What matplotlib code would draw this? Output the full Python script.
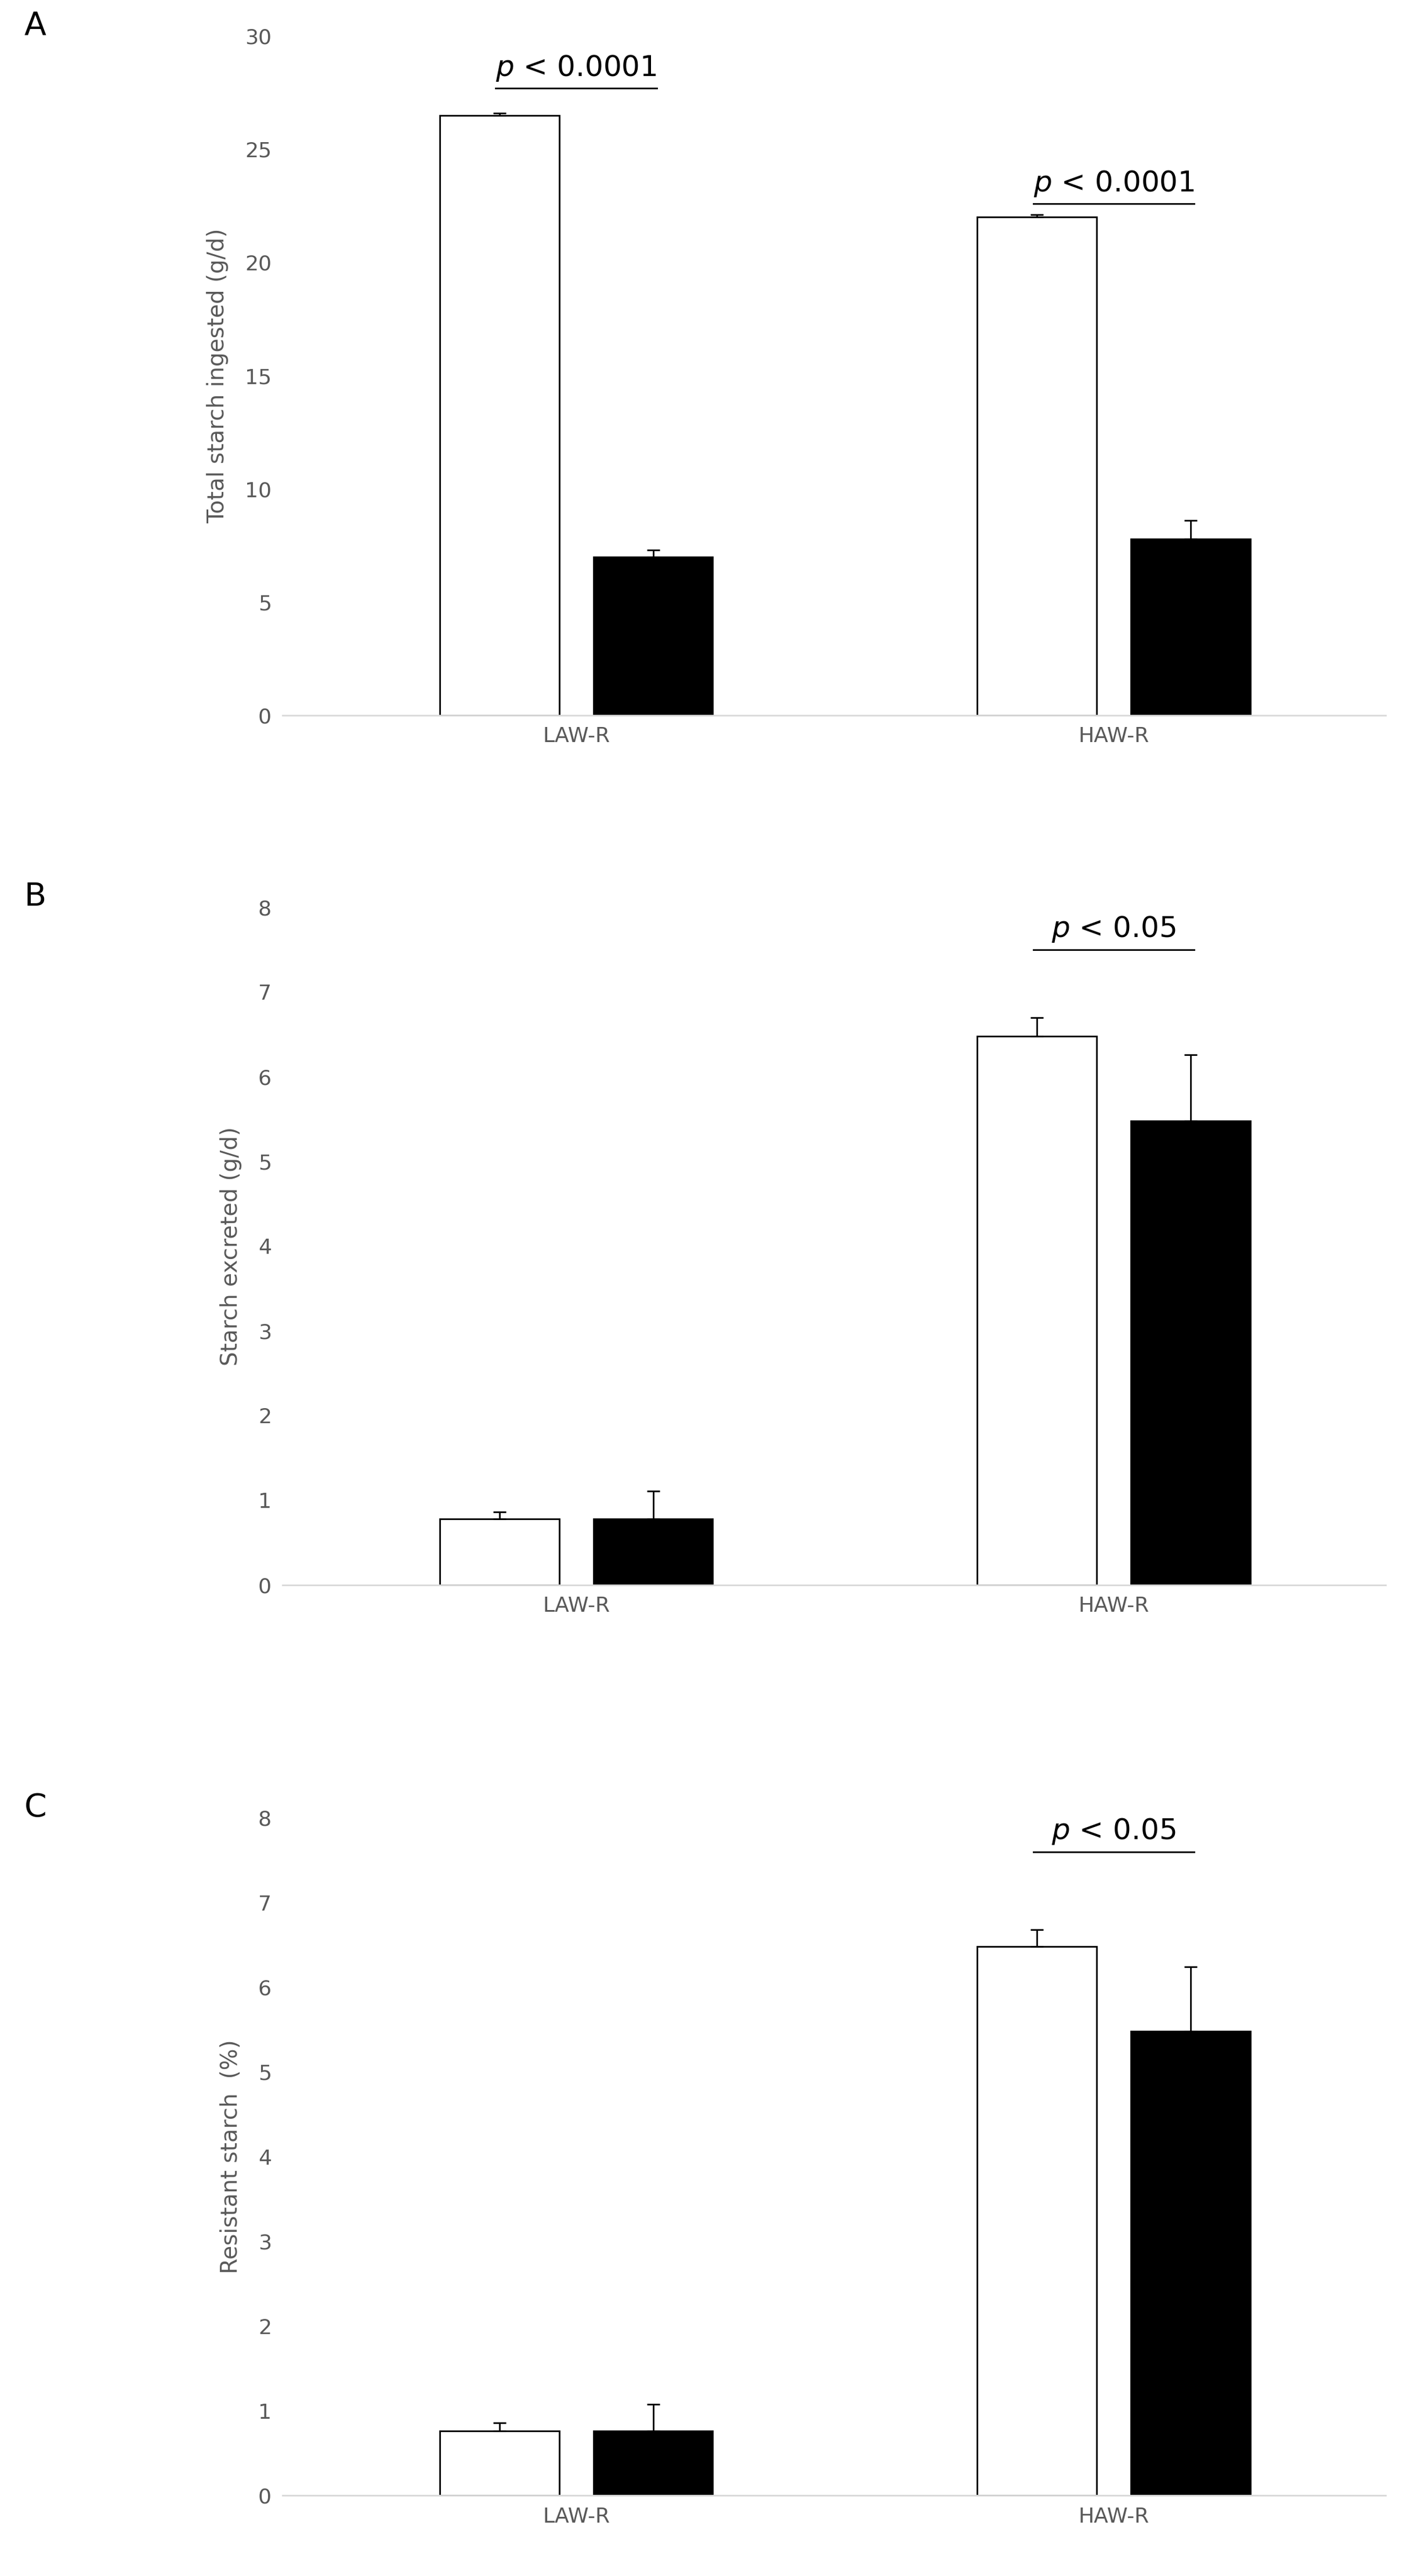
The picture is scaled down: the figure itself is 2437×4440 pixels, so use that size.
import matplotlib
matplotlib.use("Agg")
import matplotlib.pyplot as plt
import numpy as np

groups = ["LAW-R", "HAW-R"]
A_white = [26.5, 22.0]; A_white_err = [0.1, 0.1]
A_black = [7.0, 7.8]; A_black_err = [0.3, 0.8]
B_white = [0.78, 6.48]; B_white_err = [0.08, 0.22]
B_black = [0.78, 5.48]; B_black_err = [0.33, 0.78]
C_white = [0.76, 6.48]; C_white_err = [0.1, 0.2]
C_black = [0.76, 5.48]; C_black_err = [0.32, 0.76]

panels = [
    ("A", "Total starch ingested (g/d)", A_white, A_white_err, A_black, A_black_err, 30, 5,
     [(0, 27.7, "0.0001"), (1, 22.6, "0.0001")], (0.7223, 0.986)),
    ("B", "Starch excreted (g/d)", B_white, B_white_err, B_black, B_black_err, 8, 1,
     [(1, 7.5, "0.05")], (0.3847, 0.6478)),
    ("C", "Resistant starch  (%)", C_white, C_white_err, C_black, C_black_err, 8, 1,
     [(1, 7.6, "0.05")], (0.0312, 0.2943)),
]

fig = plt.figure(figsize=(24.37, 44.4), dpi=100)
x = np.arange(len(groups))
off, w = 0.143, 0.222
for letter, ylabel, wv, we, bv, be, ymax, step, sig, (b, t) in panels:
    ax = fig.add_axes([0.2, b, 0.78, t - b])
    ax.bar(x - off, wv, w, color="white", edgecolor="black", linewidth=2,
           yerr=[np.zeros(2), we], error_kw=dict(ecolor="black", elinewidth=2, capsize=8, capthick=2))
    ax.bar(x + off, bv, w, color="black", edgecolor="black", linewidth=2,
           yerr=[np.zeros(2), be], error_kw=dict(ecolor="black", elinewidth=2, capsize=8, capthick=2))
    ax.set_xlim(-0.546, 1.506)
    ax.set_ylim(0, ymax)
    ax.set_yticks(np.arange(0, ymax + step / 2, step))
    ax.set_xticks(x)
    ax.set_xticklabels(groups)
    ax.tick_params(length=0, labelsize=26, labelcolor="#595959", pad=14)
    for s in ["top", "right", "left"]:
        ax.spines[s].set_visible(False)
    ax.spines["bottom"].set_color("#d9d9d9")
    ax.spines["bottom"].set_linewidth(2)
    ax.set_ylabel(ylabel, fontsize=28, color="#595959", labelpad=20)
    for gi, yv, ptxt in sig:
        ax.plot([gi - 0.15, gi + 0.15], [yv, yv], color="black", lw=2, clip_on=False)
        ax.text(gi, yv + ymax * 0.008, r"$\it{p}$ < " + ptxt, ha="center", va="bottom",
                fontsize=36, clip_on=False)
    fig.text(0.017, t + 0.004, letter, fontsize=40, va="center")

fig.savefig("out.png", dpi=100)
